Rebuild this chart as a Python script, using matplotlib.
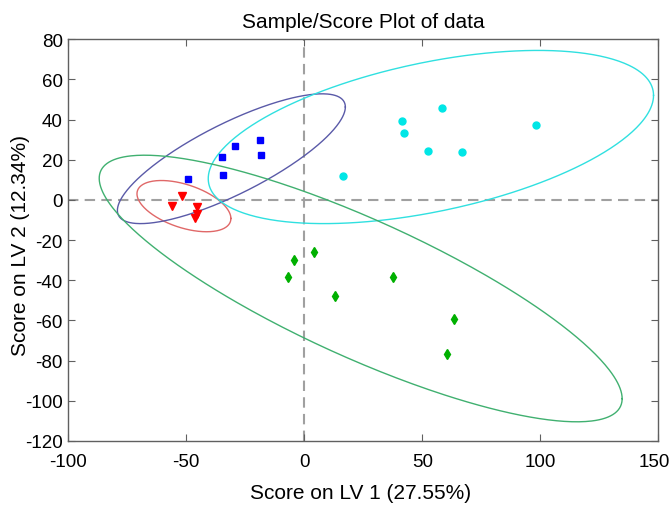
import numpy as np
import matplotlib
matplotlib.use("Agg")
import matplotlib.pyplot as plt
from matplotlib.transforms import ScaledTranslation

plt.rcParams['font.family'] = ['Liberation Sans', 'DejaVu Sans']
plt.rcParams['axes.unicode_minus'] = False

# ---- data (scores) ----
red_x = [-51.9, -56.2, -45.3, -45.6, -46.3]
red_y = [1.8, -3.1, -3.6, -7.0, -9.0]

blue_x = [-49.4, -34.6, -34.9, -29.4, -18.9, -18.3]
blue_y = [10.4, 12.4, 21.5, 26.7, 30.0, 22.4]

cyan_x = [16.3, 41.3, 42.4, 58.5, 52.3, 66.7, 98.2]
cyan_y = [11.9, 39.2, 33.3, 45.8, 24.5, 23.9, 37.2]

green_x = [4.1, -4.5, -7.0, 13.1, 37.5, 63.3, 60.5]
green_y = [-25.7, -29.9, -38.2, -47.6, -38.2, -59.4, -76.6]

# confidence ellipses: centre, half-width, half-height, xy covariance term
ell_names = ['red', 'blue', 'cyan', 'green']
ell_cx = [-51.0, -30.9, 53.65, 23.9]
ell_cy = [-3.1, 20.5, 31.3, -44.1]
ell_wx = [19.9, 48.3, 94.35, 110.8]
ell_hy = [12.75, 32.3, 43.1, 66.35]
ell_sxy = [-122.0, 1243.0, 1955.0, -6075.0]
ell_colors = ['#e06868', '#5a5aa8', '#30e0e0', '#40b070']

x_ticks = [-100, -50, 0, 50, 100, 150]
y_ticks = [-120, -100, -80, -60, -40, -20, 0, 20, 40, 60, 80]

fig = plt.figure(figsize=(6.71, 5.06), dpi=100)
ax = fig.add_axes([0.1018, 0.1265, 0.8792, 0.7941])

ax.axvline(0, color='#a0a0a0', ls=(0, (5, 3)), lw=1.5, zorder=1)
ax.axhline(0, color='#a0a0a0', ls=(0, (5, 3)), lw=1.5, zorder=1)

t = np.linspace(0, 2 * np.pi, 400)
for cx, cy, wx, hy, sxy, col in zip(ell_cx, ell_cy, ell_wx, ell_hy, ell_sxy, ell_colors):
    S = np.array([[wx ** 2, sxy], [sxy, hy ** 2]])
    L = np.linalg.cholesky(S)
    pts = L @ np.vstack([np.cos(t), np.sin(t)])
    ax.plot(cx + pts[0], cy + pts[1], color=col, lw=1.0, zorder=2)

ax.plot(red_x, red_y, 'v', color='#ff0000', ms=6, ls='none', zorder=3)
ax.plot(blue_x, blue_y, 's', color='#0000ff', ms=4.8, ls='none', zorder=3)
ax.plot(cyan_x, cyan_y, 'o', color='#00e6e6', ms=5, mec='#00e6e6', ls='none', zorder=3)
ax.plot(green_x, green_y, 'd', color='#00b000', ms=5.5, ls='none', zorder=3)

ax.set_xlim(-100, 150)
ax.set_ylim(-120, 80)
ax.set_xticks(x_ticks)
ax.set_yticks(y_ticks)
ax.tick_params(direction='in', top=True, right=True, length=5, labelsize=13.5,
               color='#606060')
ax.tick_params(axis='x', pad=9)
ax.tick_params(axis='y', pad=4)
for sp in ax.spines.values():
    sp.set_color('#606060')
    sp.set_linewidth(1.0)

# keep the right-most x tick label inside the canvas
last = ax.xaxis.get_major_ticks()[-1].label1
last.set_transform(last.get_transform() + ScaledTranslation(-3 / 72, 0, fig.dpi_scale_trans))

ax.set_xlabel('Score on LV 1 (27.55%)', fontsize=15)
ax.set_ylabel('Score on LV 2 (12.34%)', fontsize=15)
ax.xaxis.set_label_coords(0.496, -0.105)
ax.yaxis.set_label_coords(-0.065, 0.49)
ax.set_title('Sample/Score Plot of data', fontsize=15, pad=9)

fig.savefig('out.png', dpi=100)
